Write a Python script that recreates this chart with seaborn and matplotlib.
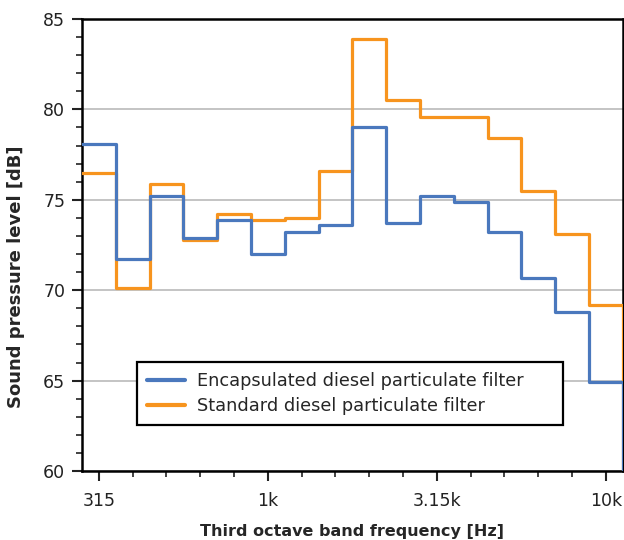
import pandas as pd
import seaborn as sns
import matplotlib.pyplot as plt
from matplotlib.ticker import MultipleLocator

# third octave bands, 315 Hz .. 12.5 kHz (last band only shows as the drop at the right edge)
bands = ["315", "400", "500", "630", "800", "1k", "1.25k", "1.6k", "2k", "2.5k",
         "3.15k", "4k", "5k", "6.3k", "8k", "10k", "12.5k"]
encapsulated = [78.1, 71.7, 75.2, 72.9, 73.9, 72.0, 73.2, 73.6, 79.0, 73.7,
                75.2, 74.9, 73.2, 70.7, 68.8, 64.9, 57.0]
standard = [76.5, 70.1, 75.9, 72.8, 74.2, 73.9, 74.0, 76.6, 83.9, 80.5,
            79.6, 79.6, 78.4, 75.5, 73.1, 69.2, 58.0]
major_labels = ["315", "1k", "3.15k", "10k"]

lab_enc = "Encapsulated diesel particulate filter"
lab_std = "Standard diesel particulate filter"

# each band drawn as a flat step across its width; x = left band edge in band-index units
df = pd.DataFrame({
    "edge": list(range(len(bands))) * 2,
    "level": encapsulated + standard,
    "filter": [lab_enc] * len(bands) + [lab_std] * len(bands),
})
df["edge"] = df["edge"] - 0.5

sns.set_style("ticks")
plt.rcParams["font.family"] = ["DejaVu Sans"]

fig = plt.figure(figsize=(6.24, 5.4), dpi=100)
ax = fig.add_axes([0.1314, 0.1278, 0.8666, 0.837])

sns.lineplot(data=df, x="edge", y="level", hue="filter",
             palette={lab_enc: "#4a78bd", lab_std: "#f7941e"},
             drawstyle="steps-post", linewidth=2.3, ax=ax)
# blue on top of orange, as in the original
ax.lines[0].set_zorder(4)
ax.lines[1].set_zorder(3)

ax.set_xlim(-0.5, 15.5)
ax.set_ylim(60, 85)

major_pos = [bands.index(b) for b in major_labels]
ax.set_xticks(major_pos)
ax.set_xticklabels(major_labels)
ax.set_xticks(range(16), minor=True)
ax.yaxis.set_major_locator(MultipleLocator(5))
ax.yaxis.set_minor_locator(MultipleLocator(1))

ax.tick_params(axis="both", which="major", length=7, width=1.5, labelsize=12.5,
               colors="#222222", pad=5)
ax.tick_params(axis="both", which="minor", length=4, width=1.2, colors="#222222")
ax.tick_params(axis="x", which="major", pad=8)

ax.grid(axis="y", which="major", color="#c4c4c4", linewidth=1.4)
ax.set_axisbelow(True)

for s in ax.spines.values():
    s.set_visible(True)
    s.set_color("black")
    s.set_linewidth(1.8)

ax.set_xlabel("Third octave band frequency [Hz]", fontsize=11.5, fontweight="bold", labelpad=10)
ax.set_ylabel("Sound pressure level [dB]", fontsize=13, fontweight="bold")
ax.yaxis.set_label_coords(-0.105, 0.43)

leg = ax.legend(loc="lower left", bbox_to_anchor=(0.1017, 0.1018, 0.7874, 0.2),
                mode="expand", borderaxespad=0, fontsize=12.75, frameon=True,
                fancybox=False, handlelength=2.15, handletextpad=0.7,
                borderpad=0.55, labelspacing=0.42)
leg.get_frame().set_edgecolor("black")
leg.get_frame().set_linewidth(1.6)
leg.get_frame().set_alpha(1)
for h in leg.get_lines():
    h.set_linewidth(3)

fig.savefig("out.png", dpi=100)
